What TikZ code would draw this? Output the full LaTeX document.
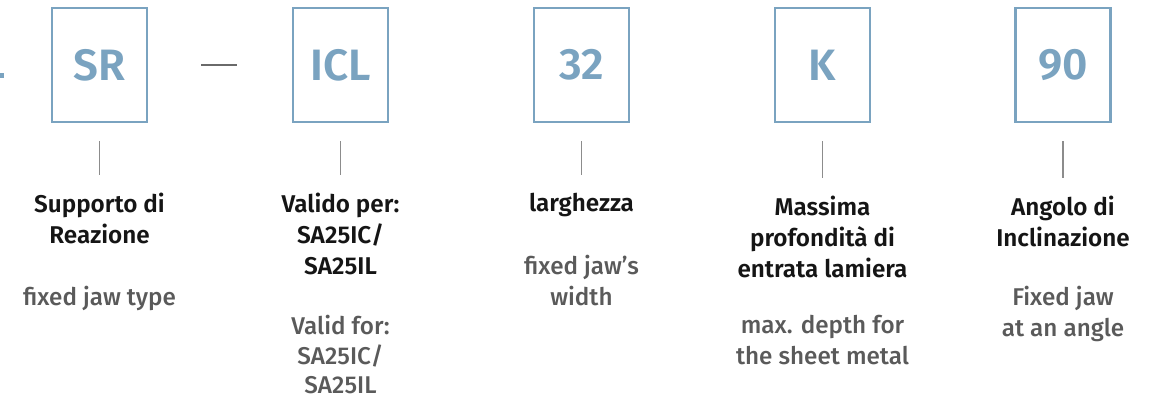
\documentclass[tikz,border=0pt]{standalone}
\usepackage{fontspec}
\setmainfont{Fira Sans}[BoldFont=Fira Sans SemiBold]
\newfontfamily\notefont{Fira Sans Medium}
\usetikzlibrary{positioning}

\begin{document}
\begin{tikzpicture}[
    every node/.style={align=center, inner sep=0pt},
]

% Colors
\definecolor{codecolor}{HTML}{7AA3C0}
\definecolor{tickcolor}{HTML}{8C8C8C}
\definecolor{dashcolor}{HTML}{6A6A6A}
\definecolor{titlecolor}{HTML}{151515}
\definecolor{notecolor}{HTML}{5A5A5A}

% Y coordinates
\def\boxy{-1.30}
\def\titley{-3.86}
\def\notea{-5.72}
\def\noteb{-6.30}
\def\notec{-5.10}

% Box dimensions
\def\boxw{1.9}
\def\boxh{2.28}

% X positions
\def\xa{1.99}
\def\xb{6.81}
\def\xc{11.63}
\def\xd{16.45}
\def\xe{21.26}

\useasboundingbox (0,0) rectangle (23.14,-8.02);

% Code boxes
\node[draw=codecolor, line width=1.2pt, text=codecolor,
    minimum width=\boxw cm, minimum height=\boxh cm,
    font=\fontsize{25}{28}\selectfont\bfseries] (sr) at (\xa, \boxy) {SR};

\node[draw=codecolor, line width=1.2pt, text=codecolor,
    minimum width=\boxw cm, minimum height=\boxh cm,
    font=\fontsize{25}{28}\selectfont\bfseries] (icl) at (\xb, \boxy) {ICL};

\node[draw=codecolor, line width=1.2pt, text=codecolor,
    minimum width=\boxw cm, minimum height=\boxh cm,
    font=\fontsize{25}{28}\selectfont\bfseries] (width) at (\xc, \boxy) {32};

\node[draw=codecolor, line width=1.2pt, text=codecolor,
    minimum width=\boxw cm, minimum height=\boxh cm,
    font=\fontsize{25}{28}\selectfont\bfseries] (depth) at (\xd, \boxy) {K};

\node[draw=codecolor, line width=1.2pt, text=codecolor,
    minimum width=\boxw cm, minimum height=\boxh cm,
    font=\fontsize{25}{28}\selectfont\bfseries] (angle) at (\xe, \boxy) {90};

% Cut-off mark at the left edge
\fill[codecolor] (0,-1.46) rectangle (0.09,-1.56);

% Dash between SR and ICL
\draw[dashcolor, line width=0.9pt, shorten <=1.06cm, shorten >=1.10cm]
    (sr.east) -- (icl.west);

% Italian titles
\node[anchor=north, text=titlecolor, font=\fontsize{13.8}{17.6}\selectfont\bfseries]
    (sr-title) at (\xa, \titley) {Supporto di\\Reazione};
\node[anchor=north, text=titlecolor, font=\fontsize{13.8}{17.6}\selectfont\bfseries]
    (icl-title) at (\xb, \titley) {Valido per:\\SA25IC/\\SA25IL};
\node[anchor=north, text=titlecolor, font=\fontsize{13.8}{17.6}\selectfont\bfseries]
    (width-title) at (\xc, \titley) {larghezza};
\node[anchor=north, text=titlecolor, font=\fontsize{13.8}{17.6}\selectfont\bfseries]
    (depth-title) at (\xd, \titley-0.06) {Massima\\profondità di\\entrata lamiera};
\node[anchor=north, text=titlecolor, font=\fontsize{13.8}{17.6}\selectfont\bfseries]
    (angle-title) at (\xe, \titley-0.06) {Angolo di\\Inclinazione};

% Ticks from box to title
\foreach \n in {sr, icl, width, depth, angle} {
    \draw[tickcolor, line width=0.7pt, shorten <=0.36cm, shorten >=0.36cm]
        (\n.south) -- (\n-title.north);
}

% English notes
\node[anchor=north, text=notecolor, font=\fontsize{13.8}{17.6}\selectfont\notefont]
    (sr-note) at (\xa, \notea) {fixed jaw type};
\node[anchor=north, text=notecolor, font=\fontsize{13.8}{16.8}\selectfont\notefont]
    (icl-note) at (\xb, \noteb) {Valid for:\\SA25IC/\\SA25IL};
\node[anchor=north, text=notecolor, font=\fontsize{13.8}{17.6}\selectfont\notefont]
    (width-note) at (\xc, \notec) {fixed jaw’s\\width};
\node[anchor=north, text=notecolor, font=\fontsize{13.8}{17.6}\selectfont\notefont]
    (depth-note) at (\xd, \noteb) {max. depth for\\the sheet metal};
\node[anchor=north, text=notecolor, font=\fontsize{13.8}{17.6}\selectfont\notefont]
    (angle-note) at (\xe, \notea) {Fixed jaw\\at an angle};

\end{tikzpicture}
\end{document}
